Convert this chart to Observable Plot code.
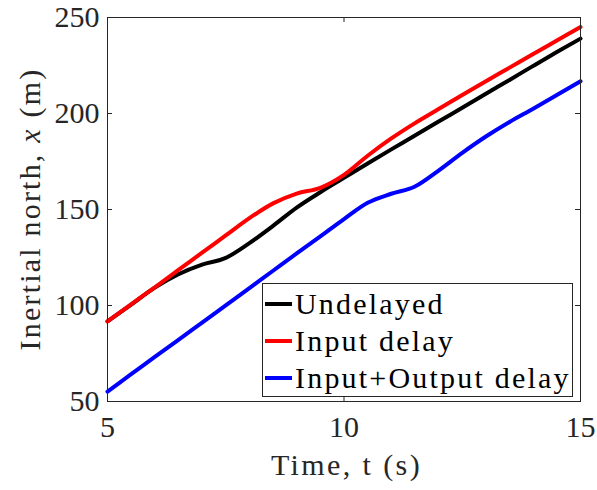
<!DOCTYPE html>
<html>
<head>
<meta charset="utf-8">
<script src="https://cdn.jsdelivr.net/npm/d3@7"></script>
<script src="https://cdn.jsdelivr.net/npm/@observablehq/plot@0.6"></script>
<style>
  html, body { margin: 0; padding: 0; background: #fff; }
  #wrap { position: relative; width: 597px; height: 490px; font-family: "Liberation Serif", serif; }
  #legend { position: absolute; left: 262px; top: 283px; width: 311px; height: 114px; border: 1px solid #262626; background: #fff; box-sizing: border-box; padding-top: 1px; }
  .row { display: flex; align-items: center; height: 37px; font-size: 30px; letter-spacing: 2.2px; color: #000; }
  .sw { width: 27px; height: 4px; margin-left: 2px; margin-right: 3px; flex: none; }
</style>
</head>
<body>
<div id="wrap"></div>
<script>
const times = [5,5.5,6,6.5,7,7.5,8,8.5,9,9.5,10,10.5,11,11.5,12,12.5,13,13.5,14,14.5,15];
const undelayed  = [91.7,100.5,109.3,116.3,121.3,124.8,132.5,141.5,151,159,166.5,174,181.3,188.5,195.8,203,210.3,217.5,224.8,232,239];
const inputDelay = [91.7,100.6,109.5,118.5,127.5,136.5,145.5,153.2,158.3,161.3,168,178,187,195,202.3,209.6,216.8,223.9,231,238,245];
const ioDelay    = [55.2,64.2,73.2,82.1,91.1,100.1,109.1,118.1,127.1,136,145,153.5,158.2,162,170.3,179.5,188,195.6,202.5,209.6,216.8];
const seriesNames = ["Undelayed", "Input delay", "Input+Output delay"];
const seriesColors = ["#000000", "#ff0000", "#0000ff"];
const xTicks = [5, 10, 15];
const yTicks = [50, 100, 150, 200, 250];

const seriesValues = [undelayed, inputDelay, ioDelay];
const data = seriesNames.flatMap((s, i) => times.map((t, j) => ({t, v: seriesValues[i][j], s})));

const W = 597, H = 490, mL = 107, mR = 17, mT = 17, mB = 89;
const pw = W - mL - mR, ph = H - mT - mB;

const chart = Plot.plot({
  width: W, height: H,
  marginLeft: mL, marginRight: mR, marginTop: mT, marginBottom: mB,
  style: {fontFamily: "Liberation Serif, serif", background: "#fff", color: "#262626"},
  x: {domain: [5, 15]},
  y: {domain: [50, 250]},
  color: {domain: seriesNames, range: seriesColors},
  marks: [
    Plot.line(data, {x: "t", y: "v", z: "s", stroke: "s", strokeWidth: 4, curve: "monotone-x"}),
    Plot.frame({stroke: "#262626", strokeWidth: 1}),
    Plot.tickX(xTicks, {x: d => d, stroke: "#262626", insetTop: ph - 5}),
    Plot.tickX(xTicks, {x: d => d, stroke: "#262626", insetBottom: ph - 5}),
    Plot.tickY(yTicks, {y: d => d, stroke: "#262626", insetRight: pw - 5}),
    Plot.tickY(yTicks, {y: d => d, stroke: "#262626", insetLeft: pw - 5}),
    Plot.axisX({ticks: xTicks, tickSize: 0, tickPadding: 14, fontSize: 30, label: null, tickFormat: d => String(d), fill: "#262626"}),
    Plot.axisY({ticks: yTicks, tickSize: 0, tickPadding: 8, fontSize: 30, label: null, tickFormat: d => String(d), fill: "#262626"})
  ]
});

const wrap = document.getElementById("wrap");
wrap.appendChild(chart);

const svg = d3.select(chart);
svg.append("text")
  .attr("x", mL + pw / 2 + 3).attr("y", 475)
  .attr("text-anchor", "middle")
  .attr("font-size", 30).attr("letter-spacing", "2.4px")
  .attr("fill", "#262626")
  .text("Time, t (s)");

const yl = svg.append("text")
  .attr("transform", `translate(40,${mT + ph / 2}) rotate(-90)`)
  .attr("text-anchor", "middle")
  .attr("font-size", 30).attr("letter-spacing", "2.2px")
  .attr("fill", "#262626");
yl.append("tspan").text("Inertial north, ");
yl.append("tspan").attr("font-style", "italic").text("x");
yl.append("tspan").text(" (m)");

const legend = document.createElement("div");
legend.id = "legend";
seriesNames.forEach((name, i) => {
  const row = document.createElement("div");
  row.className = "row";
  const sw = document.createElement("span");
  sw.className = "sw";
  sw.style.background = seriesColors[i];
  const tx = document.createElement("span");
  tx.textContent = name;
  row.appendChild(sw);
  row.appendChild(tx);
  legend.appendChild(row);
});
wrap.appendChild(legend);
</script>
</body>
</html>
